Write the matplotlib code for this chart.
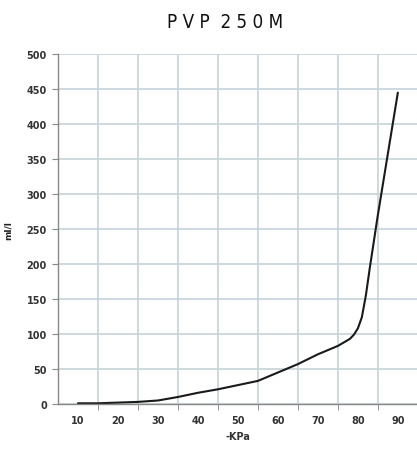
import numpy as np
import matplotlib
matplotlib.use("Agg")
import matplotlib.pyplot as plt

kpa = [10, 15, 20, 25, 30, 35, 40, 45, 50, 55, 60, 65, 70, 75, 78, 79, 80, 81, 82, 83, 85, 87, 90]
mll = [1, 1, 2, 3, 5, 10, 16, 21, 27, 33, 45, 57, 71, 83, 93, 99, 108, 124, 155, 195, 270, 340, 445]
xticks = [10, 20, 30, 40, 50, 60, 70, 80, 90]
yticks = [0, 50, 100, 150, 200, 250, 300, 350, 400, 450, 500]

fig = plt.figure(figsize=(4.17, 4.52), dpi=100)
ax = fig.add_axes([0.139, 0.104, 0.863, 0.774])

ax.plot(kpa, mll, color="#1a1a1a", lw=1.5, solid_capstyle="round", solid_joinstyle="round")

ax.set_xlim(5, 95)
ax.set_ylim(0, 500)
ax.set_xticks(xticks)
ax.set_xticks([15, 25, 35, 45, 55, 65, 75, 85], minor=True)
ax.set_yticks(yticks)
ax.tick_params(axis="x", which="major", length=0, pad=8, labelsize=7, labelcolor="#333333")
ax.tick_params(axis="x", which="minor", length=4, color="#888888", direction="out")
ax.tick_params(axis="y", length=4, color="#888888", pad=4, labelsize=7, labelcolor="#333333")
for lab in ax.get_xticklabels() + ax.get_yticklabels():
    lab.set_fontweight("bold")

ax.grid(True, axis="x", which="minor", color="#c3d4da", lw=1.2)
ax.grid(True, axis="y", which="major", color="#c3d4da", lw=1.2)
ax.set_axisbelow(True)

for s in ["top", "right"]:
    ax.spines[s].set_visible(False)
for s in ["left", "bottom"]:
    ax.spines[s].set_color("#888888")
    ax.spines[s].set_linewidth(1.0)

ax.set_xlabel("-KPa", fontsize=7, fontweight="bold", color="#333333", labelpad=4)
ax.set_ylabel("ml/l", fontsize=6.5, fontweight="bold", color="#222222", labelpad=10)

fig.text(0.54, 0.951, "P V P  2 5 0 M", ha="center", va="center", fontsize=13.5,
         family="DejaVu Sans", stretch="condensed", color="#111111")

fig.savefig("out.png", dpi=100)
